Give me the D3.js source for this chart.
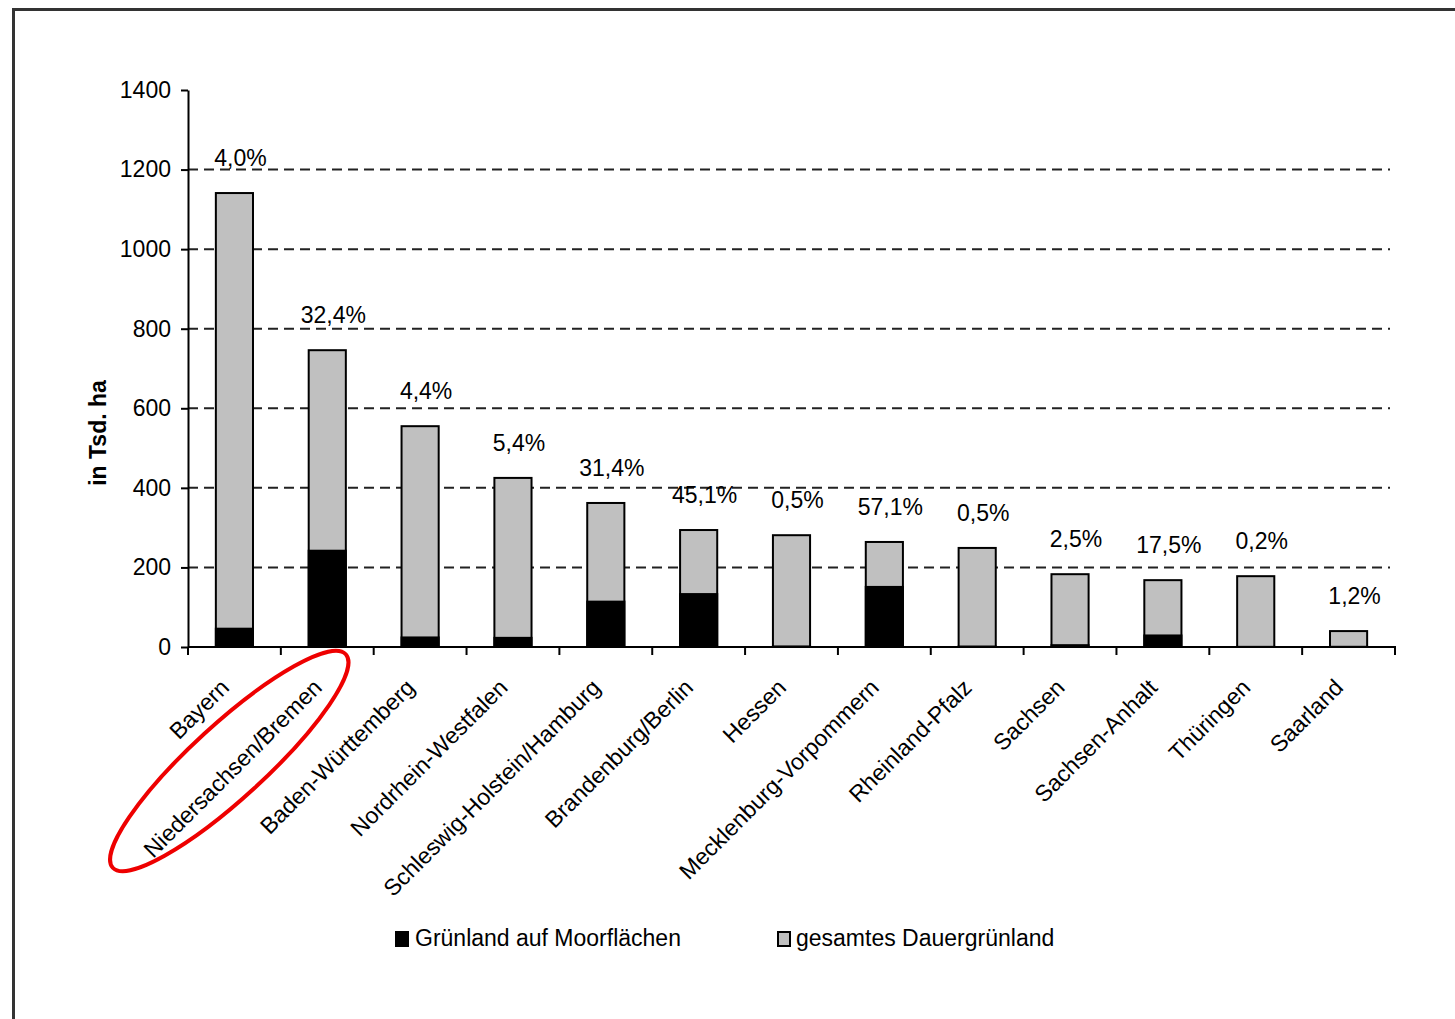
<!DOCTYPE html>
<html>
<head>
<meta charset="utf-8">
<script src="https://cdn.jsdelivr.net/npm/d3@7"></script>
<style>
  body { margin:0; background:#fff; }
  text { font-family:"Liberation Sans", Arial, sans-serif; fill:#000; }
</style>
</head>
<body>
<script>
/////////////////////////////////////////////////////////////////////
// Dauergruenland und Gruenland auf Moorflaechen nach Bundeslaendern
/////////////////////////////////////////////////////////////////////

// data (Tsd. ha)
var laender = ["Bayern","Niedersachsen/Bremen","Baden-Württemberg","Nordrhein-Westfalen",
               "Schleswig-Holstein/Hamburg","Brandenburg/Berlin","Hessen","Mecklenburg-Vorpommern",
               "Rheinland-Pfalz","Sachsen","Sachsen-Anhalt","Thüringen","Saarland"];
var gesamt  = [1141, 746, 555, 425, 362, 294, 281, 264, 249, 183, 168, 178, 40];
var moor    = [46, 242, 24, 23, 114, 133, 1.4, 151, 1.2, 4.6, 29, 0.4, 0.5];
var anteil  = ["4,0%","32,4%","4,4%","5,4%","31,4%","45,1%","0,5%","57,1%","0,5%","2,5%","17,5%","0,2%","1,2%"];
var yTicks  = [0, 200, 400, 600, 800, 1000, 1200, 1400];
var legende = ["Grünland auf Moorflächen", "gesamtes Dauergrünland"];

var W = 1455, H = 1019;
// plot area (note: "top" is reserved by window, so prefixed names)
var pLeft = 188, pRight = 1395, pTop = 90, pBottom = 647;
var grau = "#c0c0c0";
var fs = "23px";

var svg = d3.select("body").append("svg")
            .attr("width", W).attr("height", H);

// frame of the page (only top and left edge are visible)
svg.append("path")
   .attr("d", "M13.5," + (H + 5) + " L13.5,9.5 L" + (W + 5) + ",9.5")
   .attr("fill", "none").attr("stroke", "#333").attr("stroke-width", 3);

var x = d3.scaleBand().domain(laender).range([pLeft, pRight])
          .paddingInner(0.6).paddingOuter(0.3);
var y = d3.scaleLinear().domain([0, 1400]).range([pBottom, pTop]);

var rows = laender.map(function(d, i){
   return {land:d, gesamt:gesamt[i], moor:moor[i], anteil:anteil[i]};
});

//-------------------------------------------------------------------
// dashed grid lines (behind bars)
//-------------------------------------------------------------------
svg.append("g").selectAll("line")
   .data(yTicks.filter(function(v){ return v > 0 && v < 1400; }))
   .enter().append("line")
   .attr("x1", pLeft).attr("x2", pRight - 5)
   .attr("y1", function(d){ return y(d); }).attr("y2", function(d){ return y(d); })
   .attr("stroke", "#222").attr("stroke-width", 2)
   .attr("stroke-dasharray", "10,6");

//-------------------------------------------------------------------
// bars: total grey, moor black on top of it
//-------------------------------------------------------------------
var bars = svg.append("g");
bars.selectAll("rect.gesamt").data(rows).enter().append("rect")
    .attr("class", "gesamt")
    .attr("x", function(d){ return x(d.land); })
    .attr("width", x.bandwidth())
    .attr("y", function(d){ return y(d.gesamt); })
    .attr("height", function(d){ return y(0) - y(d.gesamt); })
    .attr("fill", grau).attr("stroke", "#000").attr("stroke-width", 2);

bars.selectAll("rect.moor").data(rows).enter().append("rect")
    .attr("class", "moor")
    .attr("x", function(d){ return x(d.land); })
    .attr("width", x.bandwidth())
    .attr("y", function(d){ return y(d.moor); })
    .attr("height", function(d){ return y(0) - y(d.moor); })
    .attr("fill", "#000").attr("stroke", "#000").attr("stroke-width", 2);

// percentage labels
svg.append("g").selectAll("text").data(rows).enter().append("text")
   .attr("x", function(d){ return x(d.land) + x.bandwidth()/2 + 6; })
   .attr("y", function(d){ return y(d.gesamt) - 27; })
   .attr("text-anchor", "middle")
   .style("font-size", fs)
   .text(function(d){ return d.anteil; });

//-------------------------------------------------------------------
// axes
//-------------------------------------------------------------------
var yAxis = svg.append("g")
   .attr("transform", "translate(" + pLeft + ",0)")
   .call(d3.axisLeft(y).tickValues(yTicks).tickFormat(d3.format("d"))
           .tickSize(7).tickSizeOuter(0).tickPadding(10));
yAxis.select(".domain").attr("stroke", "#000").attr("stroke-width", 2);
yAxis.selectAll(".tick line").attr("stroke", "#000").attr("stroke-width", 2);
yAxis.selectAll(".tick text").style("font-size", fs)
     .style("font-family", "Liberation Sans, Arial, sans-serif").attr("fill", "#000");

var step = x.step(), x0 = x(laender[0]) - step * x.paddingOuter();
var xAxis = svg.append("g").attr("transform", "translate(0," + pBottom + ")");
xAxis.append("line").attr("x1", pLeft).attr("x2", pRight + 1)
     .attr("stroke", "#000").attr("stroke-width", 2);
xAxis.selectAll("line.tick").data(d3.range(laender.length + 1)).enter().append("line")
     .attr("class", "tick")
     .attr("x1", function(i){ return x0 + i * step; })
     .attr("x2", function(i){ return x0 + i * step; })
     .attr("y1", 0).attr("y2", 8)
     .attr("stroke", "#000").attr("stroke-width", 2);

// rotated category labels
xAxis.selectAll("text").data(laender).enter().append("text")
     .attr("transform", function(d){
        return "translate(" + (x(d) + x.bandwidth()/2 - 4) + ",42) rotate(-45)";
     })
     .attr("text-anchor", "end")
     .style("font-size", fs)
     .text(function(d){ return d; });

// y axis title
svg.append("text")
   .attr("transform", "translate(106,433) rotate(-90)")
   .attr("text-anchor", "middle")
   .style("font-size", fs).style("font-weight", "bold")
   .text("in Tsd. ha");

//-------------------------------------------------------------------
// legend
//-------------------------------------------------------------------
var legX = [395, 777];
var leg = svg.append("g").selectAll("g").data(legende).enter().append("g")
             .attr("transform", function(d, i){ return "translate(" + legX[i] + ",931)"; });
leg.append("rect").attr("x", 1).attr("y", 1).attr("width", 12).attr("height", 14)
   .attr("fill", function(d, i){ return i == 0 ? "#000" : grau; })
   .attr("stroke", "#000").attr("stroke-width", 2);
leg.append("text").attr("x", function(d, i){ return i == 0 ? 20 : 19; }).attr("y", 15)
   .style("font-size", fs)
   .text(function(d){ return d; });

//-------------------------------------------------------------------
// red marker ellipse around Niedersachsen/Bremen
//-------------------------------------------------------------------
var cx = x(laender[1]) + x.bandwidth()/2 - 98, cy = pBottom + 114;
svg.append("ellipse")
   .attr("transform", "translate(" + cx + "," + cy + ") rotate(-42.5)")
   .attr("rx", 158).attr("ry", 37)
   .attr("fill", "none").attr("stroke", "#ee0000").attr("stroke-width", 4);
</script>
</body>
</html>
